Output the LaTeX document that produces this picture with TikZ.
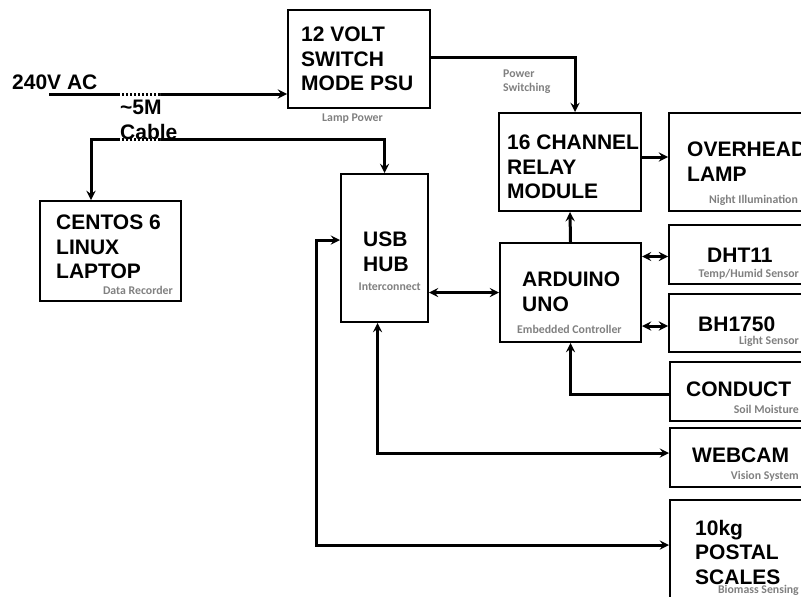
\documentclass[tikz,border=0pt]{standalone}
\usepackage{fontspec}
\setmainfont{Liberation Sans}
\newfontfamily\subfont{Carlito}
\usetikzlibrary{arrows, positioning, calc}

\begin{document}
\begin{tikzpicture}[x=1pt, y=-1pt, >=stealth,
        blk/.style={draw, line width=2pt, inner sep=0pt},
        ttl/.style={anchor=north west, inner sep=0pt, align=left,
            font=\fontsize{21}{24.5}\selectfont\bfseries},
        sub/.style={inner sep=0pt, text=black!50,
            font=\subfont\fontsize{11.8}{14}\selectfont\bfseries},
        wire/.style={line width=3pt},
        brk/.style={white, line width=4pt, dash pattern=on 2pt off 2pt}]
        \useasboundingbox (0,0) rectangle (801,597);

        % Boxes
        \node[blk, minimum width=142pt, minimum height=98pt] (psu) at (359,59) {};
        \node[blk, minimum width=142pt, minimum height=98pt] (relay) at (570,162) {};
        \node[blk, minimum width=146pt, minimum height=98pt] (lamp) at (742,162) {};
        \node[blk, minimum width=87pt, minimum height=148pt] (usb) at (384.5,248) {};
        \node[blk, minimum width=141pt, minimum height=99pt] (arduino) at (570.5,292.5) {};
        \node[blk, minimum width=146pt, minimum height=59pt] (dht) at (742,254.5) {};
        \node[blk, minimum width=146pt, minimum height=58pt] (bh) at (742,323) {};
        \node[blk, minimum width=145pt, minimum height=59pt] (conduct) at (742.5,391.5) {};
        \node[blk, minimum width=145pt, minimum height=59pt] (webcam) at (742.5,457.5) {};
        \node[blk, minimum width=145pt, minimum height=115pt] (scales) at (742.5,557.5) {};
        \node[blk, minimum width=141pt, minimum height=100pt] (laptop) at (110.5,251) {};

        % Connectors
        \coordinate (acin) at (49,94);
        \coordinate (lapbend) at (91,139);
        \coordinate (scbend) at (316,545);
        \draw[wire, ->] (acin) -- (acin -| psu.west);
        \draw[wire, <->] (usb.north) |- (lapbend) -- (lapbend |- laptop.north);
        \draw[brk] (120,94) -- (160,94);
        \draw[brk] (120,139) -- (160,139);
        \draw[wire, ->] ([yshift=2pt]psu.east) -| ([xshift=5pt]relay.north);
        \draw[wire, ->] ([yshift=5pt]relay.east) -- ([yshift=5pt]relay.east -| lamp.west);
        \draw[wire, ->] (arduino.north) -- (relay.south);
        \draw[wire, <->] (usb.east |- arduino.west) -- (arduino.west);
        \draw[wire, <->] ([yshift=-2pt]dht.west -| arduino.east) -- ([yshift=-2pt]dht.west);
        \draw[wire, <->] ([yshift=-3pt]bh.west -| arduino.east) -- ([yshift=-3pt]bh.west);
        \draw[wire, ->] ([yshift=-3pt]conduct.west) -| (arduino.south);
        \draw[wire, <->] ([xshift=-7pt]usb.south) |- ([yshift=4.5pt]webcam.west);
        \draw[wire, <->] ([yshift=8pt]usb.west) -| (scbend) -- (scbend -| scales.west);

        % Titles
        \node[ttl] (actxt) at (12,75) {240V AC};
        \node[ttl] (cabletxt) at (120,100) {\textasciitilde5M\\Cable};
        \node[ttl] (psutxt) at (301,27) {12 VOLT\\SWITCH\\MODE PSU};
        \node[ttl] (relaytxt) at (507,135) {16 CHANNEL\\RELAY\\MODULE};
        \node[ttl] (lamptxt) at (687,142) {OVERHEAD\\LAMP};
        \node[ttl] (usbtxt) at (363,232) {USB\\HUB};
        \node[ttl] (arduinotxt) at (522,272) {ARDUINO\\UNO};
        \node[ttl] (dhttxt) at (707,248) {DHT11};
        \node[ttl] (bhtxt) at (698,317) {BH1750};
        \node[ttl] (conducttxt) at (686,382) {CONDUCT};
        \node[ttl] (webcamtxt) at (692,448) {WEBCAM};
        \node[ttl] (scalestxt) at (695,520) {10kg\\POSTAL\\SCALES};
        \node[ttl] (laptoptxt) at (56,215) {CENTOS 6\\LINUX\\LAPTOP};

        % Sub labels
        \node[sub, anchor=base west] (psusub) at (322,121) {Lamp Power};
        \node[sub, anchor=base west, align=left] (relaysub) at (503,91) {Power\\Switching};
        \node[sub, anchor=base east] (lampsub) at (798,203) {Night Illumination};
        \node[sub, anchor=base east] (usbsub) at (421,290) {Interconnect};
        \node[sub, anchor=base west] (arduinosub) at (517,333) {Embedded Controller};
        \node[sub, anchor=base east] (dhtsub) at (799,277) {Temp/Humid Sensor};
        \node[sub, anchor=base east] (bhsub) at (799,344) {Light Sensor};
        \node[sub, anchor=base east] (conductsub) at (799,413) {Soil Moisture};
        \node[sub, anchor=base east] (webcamsub) at (799,479) {Vision System};
        \node[sub, anchor=base east] (scalessub) at (799,593) {Biomass Sensing};
        \node[sub, anchor=base east] (laptopsub) at (173,294) {Data Recorder};
    \end{tikzpicture}
\end{document}
